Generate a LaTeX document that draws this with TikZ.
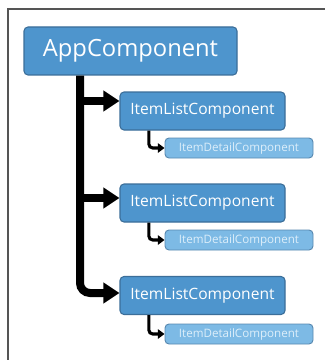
\documentclass[tikz,border=0pt]{standalone}
\usepackage{fontspec}
\setmainfont{Open Sans}
\usetikzlibrary{arrows.meta}
\definecolor{boxblue}{HTML}{4E95CD}
\definecolor{boxedge}{HTML}{3B6E99}
\definecolor{lightblue}{HTML}{7DBAE5}
\definecolor{lightedge}{HTML}{5888B0}
\definecolor{lighttext}{HTML}{DCEEFA}
\definecolor{framegray}{HTML}{555555}
\begin{document}
\begin{tikzpicture}[x=0.75pt,y=-0.75pt,
  compbox/.style={draw=boxedge, fill=boxblue, line width=0.8pt, rounded corners=3pt,
    text=white, inner sep=0pt},
  appbox/.style={compbox, minimum width=213*0.75pt, minimum height=48*0.75pt,
    font=\fontsize{17.8}{20}\selectfont},
  listbox/.style={compbox, minimum width=165*0.75pt, minimum height=38*0.75pt,
    font=\fontsize{11.7}{14}\selectfont},
  detailbox/.style={draw=lightedge, fill=lightblue, line width=0.7pt, rounded corners=3pt,
    text=lighttext, inner sep=0pt, minimum width=148*0.75pt, minimum height=20*0.75pt,
    font=\fontsize{8.7}{10}\selectfont},
  trunkline/.style={line width=6pt, rounded corners=7.5pt,
    -{Triangle[length=12pt,width=15pt]}},
  subline/.style={line width=2.3pt, rounded corners=3pt,
    -{Triangle[length=5pt,width=7pt]}}]
\useasboundingbox (0,0) rectangle (325,360);
\fill[white] (0,0) rectangle (325,360);
% window frame (top and left edges)
\draw[framegray, line width=1.2pt] (8,360) -- (8,9) -- (325,9);

% components
\node[appbox] (app) at (130.5,51) {AppComponent};
\node[listbox] (list1) at (202.5,111) {ItemListComponent};
\node[detailbox] (det1) at (239,148) {ItemDetailComponent};
\node[listbox] (list2) at (202.5,203) {ItemListComponent};
\node[detailbox] (det2) at (239,240) {ItemDetailComponent};
\node[listbox] (list3) at (202.5,295.5) {ItemListComponent};
\node[detailbox] (det3) at (239,334) {ItemDetailComponent};

% trunk from AppComponent to each ItemListComponent
\coordinate (tk) at (80,0);
\coordinate (b1) at (80,101);
\coordinate (b2) at (80,198);
\coordinate (b3) at (80,293);
\draw[trunkline] (app.south -| tk) -- (b3) -- (b3 -| list3.west);
\draw[trunkline,rounded corners=0pt] (b1) -- (b1 -| list1.west);
\draw[trunkline,rounded corners=0pt] (b2) -- (b2 -| list2.west);

% each ItemListComponent to its ItemDetailComponent
\foreach \i in {1,2,3}{
  \coordinate (s\i) at ([xshift=22]list\i.south west);
  \draw[subline] (s\i) -- (s\i |- det\i.west) -- (det\i.west);
}
\end{tikzpicture}
\end{document}
